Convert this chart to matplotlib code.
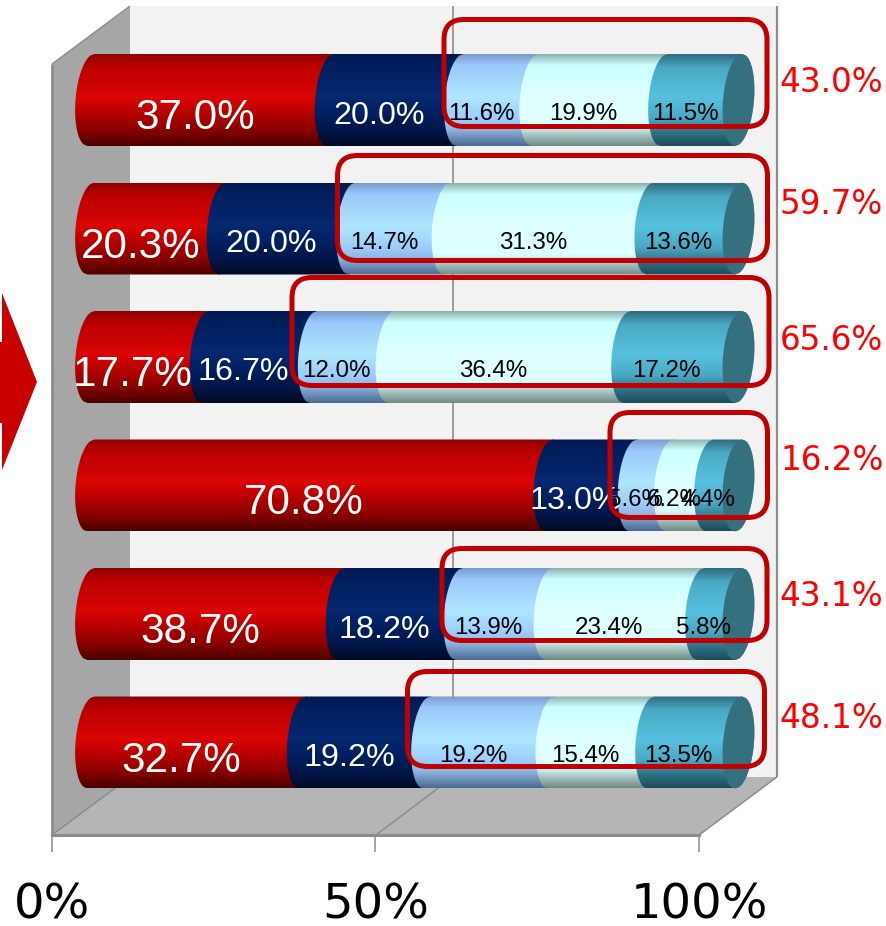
import numpy as np
import matplotlib
matplotlib.use("Agg")
import matplotlib.pyplot as plt
from matplotlib.colors import LinearSegmentedColormap
from matplotlib.patches import FancyBboxPatch, PathPatch, Polygon
from matplotlib.path import Path
from matplotlib.transforms import Affine2D

# stacked shares per row, top row first
seg1 = [37.0, 20.3, 17.7, 70.8, 38.7, 32.7]
seg2 = [20.0, 20.0, 16.7, 13.0, 18.2, 19.2]
seg3 = [11.6, 14.7, 12.0, 5.6, 13.9, 19.2]
seg4 = [19.9, 31.3, 36.4, 6.2, 23.4, 15.4]
seg5 = [11.5, 13.6, 17.2, 4.4, 5.8, 13.5]
totals = ["43.0%", "59.7%", "65.6%", "16.2%", "43.1%", "48.1%"]
axis_ticks = [0, 50, 100]
axis_labels = ["0%", "50%", "100%"]

W, H = 887, 926
BAR_X0, BAR_X100 = 91.0, 738.5   # pixel x of 0 and 100 on the bar centre plane
ROW_Y0, ROW_DY = 100.0, 128.5    # pixel y of first row and row spacing
BAR_H = 92.0
CAP_A = 15.5    # half width of the cylinder ends, px
CAP_SKEW = 3.5  # end ellipses lean a little

# vertical shading for each series, position then colour
shades = [
    [(0, "#8f0000"), (.12, "#b80000"), (.22, "#c40000"), (.47, "#da0606"), (.6, "#c00000"), (.82, "#8c0000"), (1, "#4a0000")],
    [(0, "#001a50"), (.15, "#002060"), (.47, "#07276f"), (.65, "#002060"), (.85, "#001545"), (1, "#000a25")],
    [(0, "#7b9bc8"), (.12, "#99c8fa"), (.47, "#afe6ff"), (.72, "#99cbfb"), (.82, "#8fb5e0"), (1, "#4a6a90")],
    [(0, "#8fb0ad"), (.12, "#ccffff"), (.47, "#e0ffff"), (.78, "#dcffff"), (.88, "#a8c4c0"), (1, "#6f8a86")],
    [(0, "#2f6b7e"), (.15, "#4aa9c4"), (.47, "#56c1df"), (.7, "#4aa8c3"), (.85, "#2f7488"), (1, "#1d4a57")],
]
text_colors = ["white", "white", "black", "black", "black"]
text_sizes = [30.4, 23.2, 17.4, 17.4, 17.4]
text_drop = [18, 15.5, 14, 14, 14]  # px below the bar centre

# callout frames: left, top, right, bottom in px
frames = [
    (444, 19.5, 767, 126.5),
    (337.5, 155.5, 767.5, 260.5),
    (292, 277.5, 769, 385.5),
    (610, 412.5, 767.5, 517.5),
    (442, 548.5, 767, 640.5),
    (407.5, 671.5, 764.5, 766.5),
]
total_pos = [(779, 83), (780, 204), (780, 340), (780, 461), (779, 597), (779, 719)]

fig = plt.figure(figsize=(W / 100, H / 100), dpi=100, facecolor="white")
ax = fig.add_axes([0, 0, 1, 1])
ax.set_axis_off()
ax.set_autoscale_on(False)

# top-down pixel coordinates for the box walls and callouts
px = Affine2D().scale(1, -1).translate(0, H)
scale = (BAR_X100 - BAR_X0) / 100.0
half_h = (BAR_H / 2) / ROW_DY
cap_a = CAP_A / scale
cap_s = CAP_SKEW / scale


def edge(x, t, side):
    # side=-1 bulges left, side=1 bulges right; t=-1 is the top of the bar
    return x + side * cap_a * np.sqrt(1 - t ** 2) - cap_s * t


def draw_segment(row, x0, x1, cmap, last):
    t = np.linspace(-1, 1, 60)
    left = np.column_stack([edge(x0, t, -1), row + t * half_h])
    right = np.column_stack([edge(x1, t[::-1], 1), row + t[::-1] * half_h])
    clip = PathPatch(Path(np.vstack([left, right, left[:1]])), transform=ax.transData)
    im = ax.imshow(np.linspace(0, 1, 256)[:, None], cmap=cmap, vmin=0, vmax=1, aspect="auto",
                   extent=(x0 - cap_a - cap_s, x1 + cap_a + cap_s, row + half_h, row - half_h),
                   origin="upper", zorder=3)
    im.set_clip_path(clip)
    if last:
        cap_left = np.column_stack([edge(x1, t, -1), row + t * half_h])
        ax.add_patch(Polygon(np.vstack([cap_left, right]), closed=True, facecolor="#35707f",
                             edgecolor="none", zorder=3.5))


# back wall, side wall and floor
ax.add_patch(Polygon([(130, 6), (777, 6), (777, 777), (130, 777)], transform=px, facecolor="#f2f2f2", edgecolor="none", zorder=1))
ax.add_patch(Polygon([(52, 64), (130, 6), (130, 777), (52, 835)], transform=px, facecolor="#a6a6a6", edgecolor="none", zorder=1))
ax.add_patch(Polygon([(52, 835), (130, 777), (777, 777), (699, 835)], transform=px, facecolor="#b5b5b5", edgecolor="none", zorder=1))
line_kw = dict(transform=px, color="#8c8c8c", solid_capstyle="butt", zorder=2)
ax.plot([453, 453], [6, 777], lw=1.2, **line_kw)
ax.plot([777, 777], [6, 777], lw=1.6, **line_kw)
ax.plot([52, 52], [64, 835], lw=2.0, **line_kw)
ax.plot([52, 130], [64, 6], lw=1.0, **line_kw)
for fx, bx in [(52, 130), (376, 453), (699, 777)]:
    ax.plot([fx, bx], [835, 777], lw=1.1, **line_kw)

# arrow on the left margin
ax.add_patch(Polygon([(0, 342), (2, 342), (2, 293), (37, 382), (2, 470), (2, 423), (0, 423)],
                     transform=px, facecolor="#c90000", edgecolor="none", zorder=2))

series = np.array([seg1, seg2, seg3, seg4, seg5])
cmaps = [LinearSegmentedColormap.from_list(f"shade{i}", s) for i, s in enumerate(shades)]

for row in range(series.shape[1]):
    vals = series[:, row]
    # stacked to a full 100 per row
    edges = np.concatenate([[0], np.cumsum(vals)]) * 100.0 / vals.sum()
    for k in range(len(vals)):
        draw_segment(row, edges[k], edges[k + 1], cmaps[k], k == len(vals) - 1)
        ax.annotate(f"{vals[k]:.1f}%", xy=((edges[k] + edges[k + 1]) / 2, row),
                    xytext=(-16, -text_drop[k]), textcoords="offset pixels", ha="center", va="center",
                    color=text_colors[k], fontsize=text_sizes[k], family="Liberation Sans", zorder=4)

for (l, t, r, b) in frames:
    ax.add_patch(FancyBboxPatch((l, t), r - l, b - t, boxstyle="round,pad=0,rounding_size=20",
                                transform=px, facecolor="none", edgecolor="#c00000", lw=3.6, zorder=5))

for label, (x, y) in zip(totals, total_pos):
    ax.text(x, y, label, transform=px, color="#ff0000", fontsize=23.5, ha="left", va="center", zorder=6)

# data limits chosen so percent and row index land on the bar plane
ax.set_xlim((0 - BAR_X0) / scale, (W - BAR_X0) / scale)
ax.set_ylim((H - ROW_Y0) / ROW_DY, (0 - ROW_Y0) / ROW_DY)

# value axis along the front edge of the floor
ax2 = fig.add_axes([52 / W, (H - 835) / H, 647 / W, 0.001])
ax2.patch.set_visible(False)
for side in ["top", "left", "right"]:
    ax2.spines[side].set_visible(False)
ax2.spines["bottom"].set_color("#8c8c8c")
ax2.spines["bottom"].set_linewidth(2.2)
ax2.set_xlim(0, 100)
ax2.set_yticks([])
ax2.set_xticks(axis_ticks)
ax2.set_xticklabels(axis_labels, fontsize=34.6)
ax2.tick_params(axis="x", length=12.2, width=1.1, color="#8c8c8c", pad=21.5)

fig.savefig("out.png", dpi=100)
